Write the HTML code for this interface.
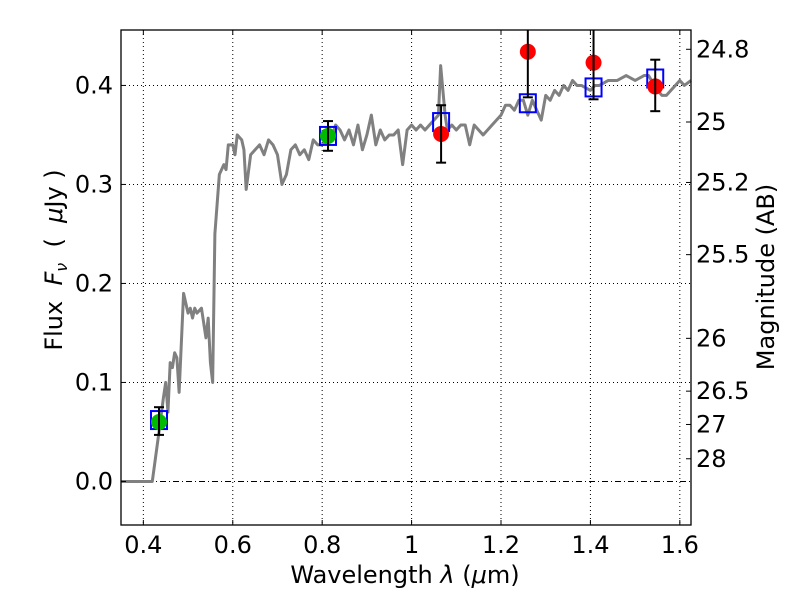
<!DOCTYPE html>
<html><head><meta charset="utf-8"><style>
body{margin:0;background:#fff}
svg text{font-family:"DejaVu Sans","Liberation Sans",sans-serif;fill:#000}
</style></head><body>
<svg id="chart" width="800" height="600" xmlns="http://www.w3.org/2000/svg">
<rect width="800" height="600" fill="#fff"/>
<g id="grid"></g>
<g id="spec"></g>
<g id="pts"></g>
<g id="axes"></g>
<text x="405" y="583" font-size="24" text-anchor="middle">Wavelength  <tspan font-style="italic">λ</tspan> (<tspan font-style="italic">μ</tspan>m)</text>
<text transform="translate(62,260) rotate(-90)" font-size="24" text-anchor="middle" xml:space="preserve">Flux  <tspan font-style="italic">F<tspan font-size="16" dy="5">ν</tspan></tspan><tspan dy="-5">  (  </tspan><tspan font-style="italic">μ</tspan>Jy )</text>
<text transform="translate(774,277) rotate(-90)" font-size="24" text-anchor="middle">Magnitude (AB)</text>
</svg>
<script>
const specWave=[0.35,0.42,0.435,0.445,0.45,0.455,0.46,0.465,0.47,0.475,0.48,0.49,0.5,0.505,0.51,0.515,0.52,0.53,0.54,0.545,0.55,0.555,0.56,0.57,0.58,0.585,0.59,0.6,0.605,0.61,0.62,0.625,0.63,0.64,0.65,0.66,0.67,0.68,0.69,0.7,0.71,0.72,0.73,0.74,0.75,0.76,0.77,0.78,0.79,0.8,0.82,0.83,0.84,0.85,0.86,0.87,0.88,0.89,0.9,0.91,0.92,0.93,0.94,0.95,0.96,0.97,0.98,0.99,1.0,1.01,1.02,1.03,1.04,1.05,1.06,1.065,1.075,1.08,1.09,1.1,1.11,1.12,1.13,1.14,1.15,1.16,1.17,1.18,1.2,1.21,1.22,1.23,1.24,1.25,1.26,1.27,1.28,1.29,1.3,1.31,1.32,1.33,1.34,1.35,1.36,1.37,1.38,1.4,1.41,1.42,1.44,1.46,1.48,1.5,1.52,1.53,1.55,1.56,1.57,1.58,1.6,1.61,1.625];
const specFlux=[0,0,0.05,0.085,0.1,0.07,0.12,0.115,0.13,0.125,0.09,0.19,0.17,0.175,0.165,0.175,0.17,0.175,0.145,0.165,0.12,0.1,0.25,0.31,0.32,0.315,0.34,0.34,0.33,0.35,0.345,0.335,0.295,0.33,0.335,0.34,0.33,0.345,0.34,0.33,0.3,0.31,0.335,0.34,0.33,0.335,0.325,0.345,0.34,0.34,0.345,0.36,0.355,0.345,0.355,0.34,0.36,0.335,0.35,0.37,0.34,0.355,0.345,0.35,0.35,0.355,0.32,0.355,0.36,0.355,0.36,0.355,0.36,0.365,0.37,0.42,0.37,0.355,0.36,0.355,0.36,0.36,0.34,0.36,0.355,0.35,0.355,0.36,0.37,0.38,0.38,0.375,0.385,0.385,0.37,0.385,0.375,0.365,0.39,0.385,0.395,0.39,0.4,0.395,0.405,0.4,0.4,0.395,0.4,0.4,0.405,0.405,0.41,0.405,0.41,0.41,0.395,0.39,0.39,0.395,0.405,0.4,0.405];
const bandWave=[0.435,0.813,1.066,1.26,1.407,1.545];
const modelFlux=[0.062,0.349,0.363,0.382,0.398,0.407];
const obsFlux=[0.060,0.349,0.351,0.434,0.423,0.399];
const errLo=[0.047,0.334,0.322,0.388,0.386,0.374];
const errHi=[0.075,0.364,0.380,0.6,0.6,0.426];
const detected=[true,true,false,false,false,false];
const xTicks=[0.4,0.6,0.8,1.0,1.2,1.4,1.6];
const xTickLabels=["0.4","0.6","0.8","1","1.2","1.4","1.6"];
const yTicks=[0.0,0.1,0.2,0.3,0.4];
const yTickLabels=["0.0","0.1","0.2","0.3","0.4"];
const magTicks=[24.8,25,25.2,25.5,26,26.5,27,28];
const magTickLabels=["24.8","25","25.2","25.5","26","26.5","27","28"];

const L=121,R=691,T=30,B=525,X0=0.35,X1=1.625,Y0=-0.044,Y1=0.456;
const xs=v=>L+(v-X0)/(X1-X0)*(R-L);
const ys=v=>B-(v-Y0)/(Y1-Y0)*(B-T);
const NS="http://www.w3.org/2000/svg";
function mk(tag,at,parent){const e=document.createElementNS(NS,tag);for(const k in at)e.setAttribute(k,at[k]);document.getElementById(parent).appendChild(e);return e;}

xTicks.forEach((t,i)=>{
 const g=mk('line',{x1:xs(t),x2:xs(t),y1:T,y2:B,stroke:'#000','stroke-width':1,'stroke-dasharray':'1,3'},'grid');
 
 
 const a=mk('line',{x1:xs(t),x2:xs(t),y1:B,y2:B-5,stroke:'#000'},'axes');
 
 
 const a2=mk('line',{x1:xs(t),x2:xs(t),y1:T,y2:T+5,stroke:'#000'},'axes');
 
 
 const tx=mk('text',{x:xs(t),y:B+28,'font-size':24,'text-anchor':'middle'},'axes');
 tx.textContent=xTickLabels[i];
 
 
});
yTicks.forEach((t,i)=>{
 const g=mk('line',{x1:L,x2:R,y1:ys(t),y2:ys(t),stroke:'#000','stroke-width':1,'stroke-dasharray':t===0?'6,3,1,3':'1,3'},'grid');
 
 
 const a=mk('line',{x1:L,x2:L+5,y1:ys(t),y2:ys(t),stroke:'#000'},'axes');
 
 
 const tx=mk('text',{x:L-8,y:ys(t)+8,'font-size':24,'text-anchor':'end'},'axes');
 tx.textContent=yTickLabels[i];
 
 
});
magTicks.forEach((m,i)=>{
 const f=Math.pow(10,(23.9-m)/2.5);const y=ys(f);
 const a=mk('line',{x1:R,x2:R-5,y1:y,y2:y,stroke:'#000'},'axes');
 
 
 const tx=mk('text',{x:R+5,y:y+8,'font-size':24},'axes');
 tx.textContent=magTickLabels[i];
 
 
});
const fr=mk('rect',{x:L,y:T,width:R-L,height:B-T,fill:'none',stroke:'#000','stroke-width':1.3},'axes');



const sp=mk('polyline',{points:specWave.map((w,i)=>xs(w)+','+ys(specFlux[i])).join(' '),fill:'none',stroke:'#808080','stroke-width':3,'stroke-linejoin':'round'},'spec');



bandWave.forEach((w,i)=>{
 const x=xs(w);
 const sq=mk('rect',{x:x-8,y:ys(modelFlux[i])-9,width:16,height:18,fill:'none',stroke:'#0000ff','stroke-width':2},'pts');
 
 
 const c=mk('circle',{cx:x,cy:ys(obsFlux[i]),r:8,fill:detected[i]?'#00bb00':'#ff0000'},'pts');
 
 
 const hi=Math.max(ys(errHi[i]),T);
 const e=mk('line',{x1:x,x2:x,y1:ys(errLo[i]),y2:hi,stroke:'#000','stroke-width':2},'pts');
 
 
 const c1=mk('line',{x1:x-5,x2:x+5,y1:ys(errLo[i]),y2:ys(errLo[i]),stroke:'#000','stroke-width':2},'pts');
 
 
 if(errHi[i]<Y1){
  const c2=mk('line',{x1:x-5,x2:x+5,y1:ys(errHi[i]),y2:ys(errHi[i]),stroke:'#000','stroke-width':2},'pts');
  
  
 }
});
</script>
</body></html>
